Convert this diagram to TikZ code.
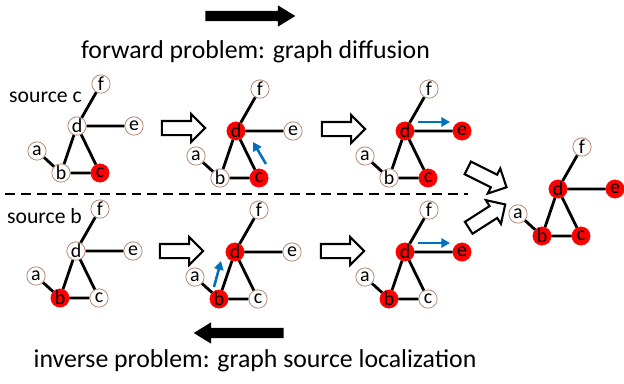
\documentclass[tikz,border=0pt]{standalone}
\usepackage{fontspec}
\setmainfont{Carlito}
\usetikzlibrary{arrows.meta,shapes.arrows}
\definecolor{rimBrown}{RGB}{184,140,118}
\definecolor{infRed}{RGB}{255,0,0}
\definecolor{spreadBlue}{RGB}{0,112,192}

% one small graph: prefix, place of d, styles of b, c, d, e
\newcommand{\diffgraph}[6]{%
  \begin{scope}[shift={#2}]
    \node[#5] (#1d) at (0,0) {d};
    \node[clean] (#1f) at (24,-42) {f};
    \node[#6] (#1e) at (57,0) {e};
    \node[clean] (#1a) at (-40,25) {a};
    \node[#3] (#1b) at (-16,47) {b};
    \node[#4] (#1c) at (23,47) {c};
  \end{scope}
  \draw[edge] (#1d) -- (#1f) (#1d) -- (#1e) (#1d) -- (#1b)
    (#1d) -- (#1c) (#1a) -- (#1b) (#1b) -- (#1c);
}

\begin{document}
\begin{tikzpicture}[
  x=0.03cm, y=-0.03cm,
  >=Latex,
  vertex/.style={circle, inner sep=0pt, minimum size=0.55cm,
    font=\fontsize{17}{17}\selectfont},
  clean/.style={vertex, draw=rimBrown, line width=0.7pt, fill=white},
  infected/.style={vertex, draw=infRed, fill=infRed},
  edge/.style={line width=2.4pt},
  spread/.style={draw=spreadBlue, line width=2.2pt,
    -{Triangle[length=2.6mm, width=2.8mm]}},
  stepArrow/.style={single arrow, draw, fill=white, line width=1.8pt,
    inner sep=0.18cm, minimum height=1.3cm,
    single arrow head extend=0.21cm, single arrow tip angle=90},
  bigArrow/.style={single arrow, fill=black, inner sep=0.15cm,
    minimum height=2.7cm, single arrow head extend=0.165cm,
    single arrow tip angle=63},
  caption/.style={font=\fontsize{22}{24}\selectfont, anchor=base},
  tag/.style={font=\fontsize{18.5}{20}\selectfont, anchor=base}
]
\useasboundingbox (0,0) rectangle (624,383);

% Titles and direction arrows.
\node[bigArrow] (fwdArrow) at (246,16) {};
\node[caption] (fwdText) at (255.5,58) {forward problem: graph diffusion};
\node[bigArrow, rotate=180] (invArrow) at (243,333) {};
\node[caption] (invText) at (255,367) {inverse problem: graph source localization};

% Source c (top row).
\node[tag] (srcC) at (45.5,102) {source c};
\diffgraph{ta}{(77,126)}{clean}{infected}{clean}{clean}
\diffgraph{tb}{(236,131)}{clean}{infected}{infected}{clean}
\diffgraph{tc}{(405,131)}{clean}{infected}{infected}{infected}
\node[stepArrow] (stepTa) at (180,128) {};
\node[stepArrow] (stepTb) at (340,129) {};

% Source b (bottom row).
\node[tag] (srcB) at (44.5,223) {source b};
\diffgraph{ba}{(76,251)}{infected}{clean}{clean}{clean}
\diffgraph{bb}{(235,252)}{infected}{clean}{infected}{clean}
\diffgraph{bc}{(405,252)}{infected}{clean}{infected}{infected}
\node[stepArrow] (stepBa) at (178,251) {};
\node[stepArrow] (stepBb) at (339,251) {};

% Divider.
\coordinate (divL) at (5,194);
\coordinate (divR) at (468,194);
\draw[line width=1.6pt, dash pattern=on 8.5pt off 5pt] (divL) -- (divR);

% Spreading steps.
\coordinate (flowTbS) at (266,164);
\coordinate (flowTbE) at (253,142);
\coordinate (flowTcS) at (418,122);
\coordinate (flowTcE) at (450,122);
\coordinate (flowBbS) at (214,287);
\coordinate (flowBbE) at (221,261);
\coordinate (flowBcS) at (418,243);
\coordinate (flowBcE) at (450,243);
\draw[spread] (flowTbS) -- (flowTbE);
\draw[spread] (flowTcS) -- (flowTcE);
\draw[spread] (flowBbS) -- (flowBbE);
\draw[spread] (flowBcS) -- (flowBcE);

% Same observed result.
\node[stepArrow, rotate=-26.6] (joinTop) at (484,176) {};
\node[stepArrow, rotate=32.6] (joinBot) at (484,218) {};
\diffgraph{ob}{(558,189)}{infected}{infected}{infected}{infected}

\end{tikzpicture}
\end{document}
